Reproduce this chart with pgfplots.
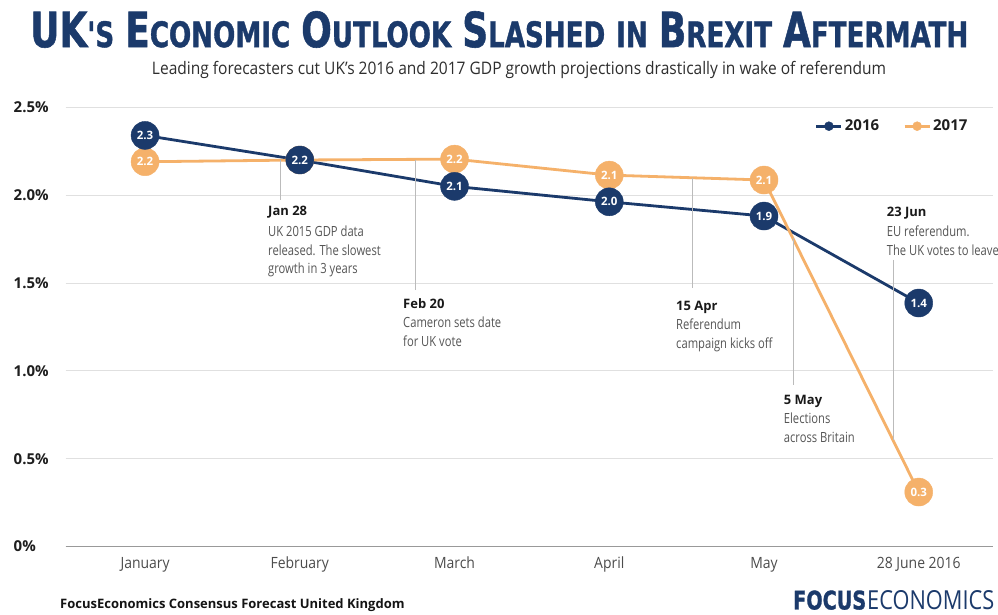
\documentclass[border=0pt]{standalone}
\usepackage{pgfplots}
\pgfplotsset{compat=1.18}
\usepackage{fontspec}
\setmainfont{Open Sans}
\newfontfamily\condfont[FakeStretch=0.80]{Open Sans}
\newfontfamily\semicond[FakeStretch=0.90]{Open Sans}
\newfontfamily\titlefont[FakeBold=1.2]{DejaVu Sans Condensed}
\definecolor{navy}{HTML}{1B3A6B}
\definecolor{orng}{HTML}{F5B16A}
\definecolor{anntext}{HTML}{555555}
\definecolor{annline}{HTML}{BBBBBB}
\newcommand\BL[1]{{\fontsize{40}{40}\selectfont #1}}
\newcommand\SL[1]{{\fontsize{29}{29}\selectfont #1}}
\newcommand\WS{\hspace{11pt}}
\newcommand\anndate[3]{\node[anchor=base west, inner sep=0, text=black!90] at (#1,{614-#2-5}) {\bfseries\fontsize{13}{13}\selectfont #3};}
\newcommand\annbody[3]{\node[anchor=base west, inner sep=0, text=anntext] at (#1,{614-#2-4.5}) {\condfont\fontsize{14}{14}\selectfont #3};}
\begin{document}
\begin{tikzpicture}[x=1pt,y=1pt]
\path[use as bounding box] (0,0) rectangle (998,614);
\fill[white] (0,0) rectangle (998,614);
% title
\node[anchor=south west, inner sep=0, text=navy] at (30,566) {\resizebox{938pt}{36pt}{\titlefont\bfseries \BL{UK}\SL{'S}\WS\BL{E}\SL{CONOMIC}\WS\BL{O}\SL{UTLOOK}\WS\BL{S}\SL{LASHED}\WS\SL{IN}\WS\BL{B}\SL{REXIT}\WS\BL{A}\SL{FTERMATH}}};
% subtitle
\node[anchor=center, inner sep=0, text=black!82] at (519,544) {\resizebox{734pt}{!}{\semicond\fontsize{15}{15}\selectfont Leading forecasters cut UK’s 2016 and 2017 GDP growth projections drastically in wake of referendum}};
\begin{axis}[
  at={(65.7pt,67.5pt)}, anchor=south west, scale only axis,
  width=927.3pt, height=439.2pt,
  xmin=-0.513, xmax=5.48, ymin=0, ymax=2.5,
  xtick={0,1,2,3,4,5},
  xticklabels={January,February,March,April,May,28 June 2016},
  ytick={0,0.5,1,1.5,2,2.5},
  yticklabels={0\%,0.5\%,1.0\%,1.5\%,2.0\%,2.5\%},
  ymajorgrids, grid style={draw=black!12, line width=0.9pt},
  axis line style={draw=none}, major tick length=0pt,
  /pgf/number format/assume math mode=true,
  xticklabel style={anchor=north, yshift=-7pt, text=black!70, font=\semicond\fontsize{15.5}{15.5}\selectfont},
  yticklabel style={anchor=west, xshift=-55.5pt, text=black!88, font=\bfseries\fontsize{15}{15}\selectfont},
  clip=false,
  legend columns=2,
  legend style={at={(axis description cs:0.978,0.957)}, anchor=east, draw=none, fill=none,
    font=\bfseries\fontsize{15}{15}\selectfont, text=black!88,
    /tikz/every even column/.append style={column sep=22pt}},
]
\addlegendimage{legend image code/.code={\draw[navy, line width=3pt] (-4pt,0pt) -- (21pt,0pt); \fill[navy] (8.5pt,0pt) circle (4.5pt);}}
\addlegendentry{2016}
\addlegendimage{legend image code/.code={\draw[orng, line width=3pt] (-4pt,0pt) -- (21pt,0pt); \fill[orng] (8.5pt,0pt) circle (4.5pt);}}
\addlegendentry{2017}
\draw[black!40, line width=1.8pt] (axis cs:-0.513,0) -- (axis cs:5.48,0);
% lines
\addplot[navy, line width=2.8pt, forget plot] coordinates {(0,2.34) (1,2.20) (2,2.05) (3,1.962) (4,1.881) (5,1.386)};
\addplot[orng, line width=2.8pt, forget plot] coordinates {(0,2.19) (1,2.20) (2,2.205) (3,2.114) (4,2.086) (5,0.31)};
% markers
\addplot[only marks, mark=*, mark size=14pt, mark options={fill=orng, draw=orng}, forget plot,
  nodes near coords, point meta=explicit symbolic,
  nodes near coords style={anchor=center, text=white, font=\bfseries\fontsize{11.5}{11.5}\selectfont}]
  coordinates {(0,2.19)[2.2] (1,2.20)[2.2] (2,2.205)[2.2] (3,2.114)[2.1] (4,2.086)[2.1] (5,0.31)[0.3]};
\addplot[only marks, mark=*, mark size=14pt, mark options={fill=navy, draw=navy}, forget plot,
  nodes near coords, point meta=explicit symbolic,
  nodes near coords style={anchor=center, text=white, font=\bfseries\fontsize{11.5}{11.5}\selectfont}]
  coordinates {(0,2.34)[2.3] (1,2.20)[2.2] (2,2.05)[2.1] (3,1.962)[2.0] (4,1.881)[1.9] (5,1.386)[1.4]};
\end{axis}
% annotation lines
\draw[annline, line width=1pt] (280,{614-160}) -- (280,{614-200});
\draw[annline, line width=1pt] (415,{614-160}) -- (415,{614-290});
\draw[annline, line width=1pt] (692,{614-178}) -- (692,{614-288});
\draw[annline, line width=1pt] (793.3,{614-238}) -- (793.3,{614-385});
\draw[annline, line width=1pt] (893,{614-260}) -- (893,{614-440});
% annotation texts
\anndate{268}{211}{Jan 28}
\annbody{268}{231.7}{UK 2015 GDP data}
\annbody{268}{250.7}{released. The slowest}
\annbody{268}{269}{growth in 3 years}
\anndate{403}{303}{Feb 20}
\annbody{403}{323}{Cameron sets date}
\annbody{403}{342}{for UK vote}
\anndate{676}{305.7}{15 Apr}
\annbody{676}{325}{Referendum}
\annbody{676}{344}{campaign kicks off}
\anndate{783.7}{399}{5 May}
\annbody{783.7}{419}{Elections}
\annbody{783.7}{438}{across Britain}
\anndate{886.7}{211.7}{23 Jun}
\annbody{886.7}{231.7}{EU referendum.}
\annbody{886.7}{250.7}{The UK votes to leave}
% footer
\node[anchor=west, inner sep=0, text=black!92] at (60,9) {\bfseries\fontsize{13}{13}\selectfont FocusEconomics Consensus Forecast United Kingdom};
\node[anchor=south west, inner sep=0, text=navy] at (793,4) {\resizebox{73pt}{19pt}{\titlefont\bfseries FOCUS}};
\node[anchor=south west, inner sep=0, text=navy] at (867,4) {\resizebox{127pt}{19pt}{\condfont ECONOMICS}};
\end{tikzpicture}
\end{document}
